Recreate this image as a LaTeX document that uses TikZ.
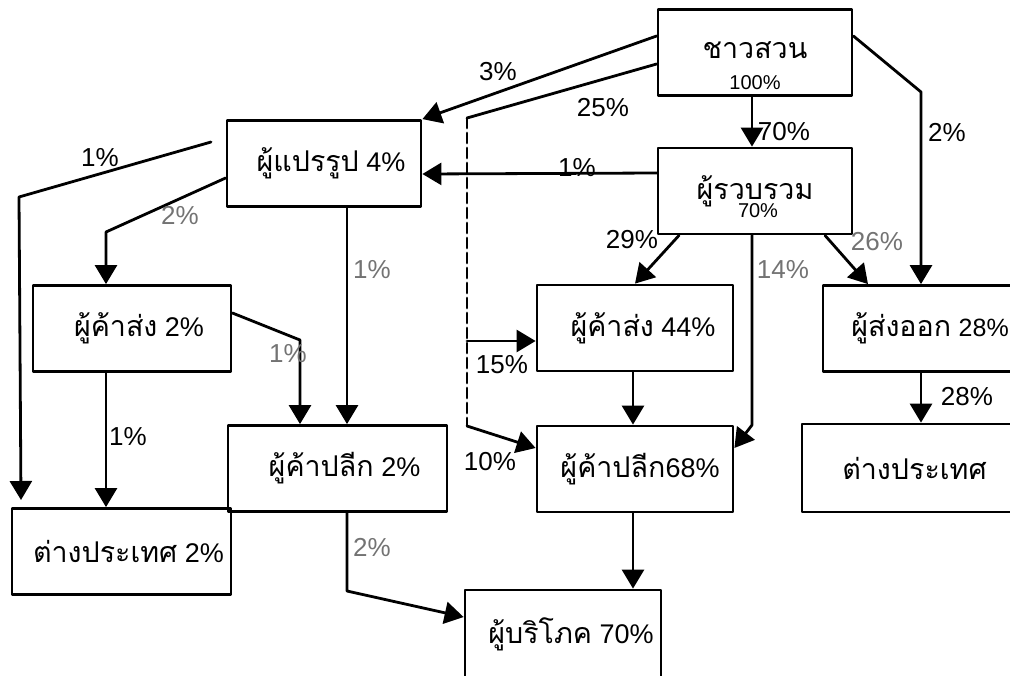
\documentclass[tikz,border=0pt]{standalone}
\usepackage{fontspec}
\setmainfont{Liberation Sans}
\newfontfamily\thaifont[Script=Thai,Scale=1.06]{Loma}
\usetikzlibrary{arrows.meta}

\tikzset{
  box/.style={draw,line width=1.4pt,minimum width=97pt,minimum height=43pt,inner sep=0pt,font=\fontsize{13.5}{15}\selectfont},
  line/.style={line width=1.4pt},
  flow/.style={line,->},
  pct/.style={inner sep=0pt,font=\fontsize{13}{15}\selectfont},
  pctgray/.style={pct,text=black!55},
  pctsmall/.style={inner sep=0pt,font=\fontsize{10}{12}\selectfont},
}

\begin{document}
\begin{tikzpicture}[line cap=round,line join=round,>={Triangle[length=9.5pt,width=11pt]},x=0.5pt,y=-0.5pt]
	\useasboundingbox (0,0) rectangle (1010,675);

	% boxes
	\node[box] (farmer) at (755,52.5) {\raisebox{2pt}{\thaifont ชาวสวน}};
	\node[box] (collect) at (755,191) {\raisebox{2pt}{\thaifont ผู้รวบรวม}};
	\node[box] (proc) at (324,163.5) {\hspace*{7pt}{\thaifont ผู้แปรรูป} 4\%};
	\node[box,minimum width=99pt] (whL) at (132,328.5) {\hspace*{7pt}{\thaifont ผู้ค้าส่ง} 2\%};
	\node[box,minimum width=109.5pt] (retL) at (337.5,468.5) {\hspace*{7pt}{\thaifont ผู้ค้าปลีก} 2\%};
	\node[box,minimum width=109.5pt] (abrL) at (121.5,551.5) {\hspace*{7pt}{\thaifont ต่างประเทศ} 2\%};
	\node[box,minimum width=98pt] (whR) at (635,328) {\hspace*{8pt}{\thaifont ผู้ค้าส่ง} 44\%};
	\node[box,minimum width=98pt] (retR) at (635,469) {\hspace*{5pt}{\thaifont ผู้ค้าปลีก}68\%};
	\node[box,minimum width=98pt,minimum height=44pt] (cons) at (563,634) {\hspace*{8pt}{\thaifont ผู้บริโภค} 70\%};
	\node[box] (export) at (920,328.5) {\hspace*{10pt}{\thaifont ผู้ส่งออก} {\fontsize{12.5}{14}\selectfont 28\%}};
	\node[box,minimum width=107.5pt,minimum height=44pt] (abrR) at (909.5,468) {\hspace*{5pt}{\thaifont ต่างประเทศ}};

	\node[pctsmall] (farmerpct) at (755,83) {100\%};
	\node[pctsmall] (collectpct) at (758,211) {70\%};

	% dashed route
	\coordinate (dtop) at (467,118);
	\coordinate (dmid) at (467,341);
	\coordinate (dbot) at (467,426);

	% free ends
	\coordinate (fstart) at (211,142);
	\coordinate (fbend) at (19,197);
	\coordinate (fend) at (21,500);

	% flows
	\draw[flow] (farmer.west |- 0,36) -- (proc.north east);
	\draw[line] (farmer.west |- 0,64) -- (dtop);
	\draw[line,dash pattern=on 5pt off 2.5pt] (dtop) -- (dbot);
	\draw[flow] (dmid) -- (whR.west |- 0,341);
	\draw[flow] (dbot) -- (retR.west |- 0,448);
	\draw[flow] (farmer.south -| 752,0) -- (collect.north -| 752,0);
	\draw[flow] (farmer.east |- 0,36) -- (921,92) -- (export.north -| 921,0);
	\draw[flow] (collect.west |- 0,173) -- (proc.east |- 0,174);
	\draw[flow] (collect.south -| 679,0) -- (whR.north);
	\draw[flow] (collect.south -| 752,0) -- (752,425) -- (retR.east |- 0,448);
	\draw[flow] (collect.south -| 825,0) -- (export.north -| 868,0);
	\draw[flow] (whR.south -| 633,0) -- (retR.north -| 633,0);
	\draw[flow] (retR.south -| 633,0) -- (cons.north -| 633,0);
	\draw[flow] (export.south -| 921,0) -- (abrR.north -| 921,0);

	\draw[flow] (fstart) -- (fbend) -- (fend);
	\draw[flow] (proc.west |- 0,178) -- (106,232) -- (whL.north -| 106,0);
	\draw[flow] (proc.south -| 347,0) -- (retL.north -| 347,0);
	\draw[flow] (whL.east |- 0,313) -- (300,340) -- (retL.north -| 300,0);
	\draw[flow] (whL.south -| 106,0) -- (abrL.north -| 106,0);
	\draw[flow] (retL.south -| 347,0) -- (347,591) -- (cons.west |- 0,617);

	% percentages
	\node[pct] (p3) at (498,72) {3\%};
	\node[pct] (p25) at (603,108) {25\%};
	\node[pct] (p70) at (784,132) {70\%};
	\node[pct] (p2r) at (947,132) {2\%};
	\node[pct] (p1c) at (577,168) {1\%};
	\node[pct] (p1l) at (100,158) {1\%};
	\node[pctgray] (p2p) at (180,215) {2\%};
	\node[pctgray] (p1p) at (372,270) {1\%};
	\node[pct] (p29) at (632,240) {29\%};
	\node[pctgray] (p14) at (783,270) {14\%};
	\node[pctgray] (p26) at (877,242) {26\%};
	\node[pctgray] (p1w) at (288,354) {1\%};
	\node[pct] (p15) at (502,365) {15\%};
	\node[pct] (p1a) at (128,437) {1\%};
	\node[pct] (p10) at (490,462) {10\%};
	\node[pct] (p28) at (967,397) {28\%};
	\node[pctgray] (p2c) at (372,547) {2\%};
\end{tikzpicture}
\end{document}
